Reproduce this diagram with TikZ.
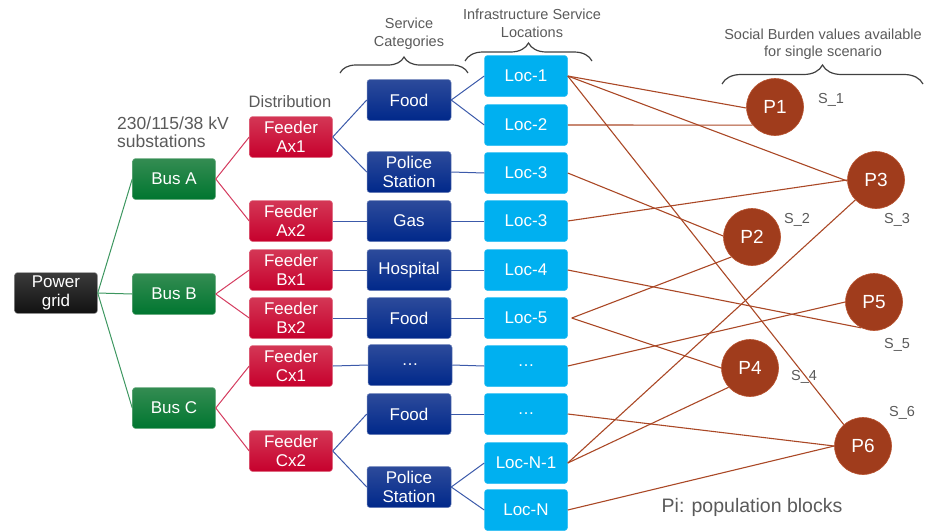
\documentclass[tikz,border=0pt]{standalone}
\usepackage{fontspec}
\setmainfont{Liberation Sans}
\usetikzlibrary{decorations.pathreplacing}
\definecolor{gridT}{RGB}{58,58,58}
\definecolor{gridB}{RGB}{18,18,18}
\definecolor{busT}{RGB}{52,140,82}
\definecolor{busB}{RGB}{0,118,48}
\definecolor{feedT}{RGB}{212,55,85}
\definecolor{feedB}{RGB}{198,0,45}
\definecolor{servT}{RGB}{45,75,155}
\definecolor{servB}{RGB}{0,40,138}
\definecolor{locC}{RGB}{0,176,240}
\definecolor{popC}{RGB}{160,60,28}
\definecolor{popD}{RGB}{185,85,50}
\definecolor{gline}{RGB}{60,150,95}
\definecolor{rline}{RGB}{212,60,95}
\definecolor{bline}{RGB}{60,90,170}
\definecolor{pline}{RGB}{170,72,38}
\definecolor{lbl}{RGB}{90,90,90}
\definecolor{brc}{RGB}{64,64,64}
\begin{document}
\begin{tikzpicture}[x=1pt,y=-1pt,
  box/.style={rounded corners=3pt, minimum width=83pt, minimum height=41pt, inner sep=0pt,
    align=center, text=white, font=\fontsize{17}{19}\selectfont},
  gridbox/.style={box, top color=gridT, bottom color=gridB, draw=gray!70, line width=0.5pt},
  busbox/.style={box, top color=busT, bottom color=busB, draw=busT!70!white, line width=0.5pt},
  feedbox/.style={box, top color=feedT, bottom color=feedB, draw=feedT!70!white, line width=0.5pt},
  servbox/.style={box, minimum width=84pt, top color=servT, bottom color=servB, draw=servT!70!white, line width=0.5pt},
  locbox/.style={box, fill=locC, draw=locC!80!white, line width=0.5pt},
  pop/.style={circle, minimum size=57pt, inner sep=0pt, fill=popC, draw=popD, line width=0.6pt,
    text=white, font=\fontsize{19}{21}\selectfont},
  lab/.style={text=lbl, align=center, inner sep=0pt, font=\fontsize{14.5}{18}\selectfont},
  slab/.style={text=lbl, inner sep=0pt, font=\fontsize{14.5}{17}\selectfont},
  gl/.style={draw=gline, line width=1pt},
  rl/.style={draw=rline, line width=1pt},
  bl/.style={draw=bline, line width=1pt},
  pl/.style={draw=pline, line width=1.1pt},
  brace/.style={draw=brc, line width=1.2pt, decorate, decoration={brace, amplitude=16pt}}
]
\useasboundingbox (0,0) rectangle (925,531);

% power grid and buses
\node[gridbox] (pg) at (56,293) {Power\\grid};
\node[busbox] (bA) at (174,179) {Bus A};
\node[busbox] (bB) at (174,294) {Bus B};
\node[busbox] (bC) at (174,408) {Bus C};

% feeders
\node[feedbox] (fA1) at (291,137) {Feeder\\Ax1};
\node[feedbox] (fA2) at (291,221) {Feeder\\Ax2};
\node[feedbox] (fB1) at (291,270) {Feeder\\Bx1};
\node[feedbox] (fB2) at (291,318) {Feeder\\Bx2};
\node[feedbox] (fC1) at (291,366) {Feeder\\Cx1};
\node[feedbox] (fC2) at (291,451) {Feeder\\Cx2};

% service categories
\node[servbox] (s1) at (409,100) {Food};
\node[servbox] (s2) at (409,172) {Police\\Station};
\node[servbox] (s3) at (409,221) {Gas};
\node[servbox] (s4) at (409,270) {Hospital};
\node[servbox] (s5) at (409,318) {Food};
\node[servbox] (s6) at (410,365) {…};
\node[servbox] (s7) at (409,414) {Food};
\node[servbox] (s8) at (409,487) {Police\\Station};

% locations
\node[locbox] (l1) at (526,76) {Loc-1};
\node[locbox] (l2) at (526,125) {Loc-2};
\node[locbox] (l3) at (526,173) {Loc-3};
\node[locbox] (l3b) at (526,221) {Loc-3};
\node[locbox] (l4) at (526,270) {Loc-4};
\node[locbox] (l5) at (526,318) {Loc-5};
\node[locbox] (ld1) at (526,366) {…};
\node[locbox] (ld2) at (526,414) {…};
\node[locbox] (lN1) at (526,463) {Loc-N-1};
\node[locbox] (lN) at (526,510) {Loc-N};

% population blocks
\node[pop] (P1) at (775,107) {P1};
\node[pop] (P3) at (876,180) {P3};
\node[pop] (P2) at (752,237) {P2};
\node[pop] (P5) at (874,302) {P5};
\node[pop] (P4) at (750,368) {P4};
\node[pop] (P6) at (863,446) {P6};

% S labels
\node[slab] (S1) at (831,100) {S\_1};
\node[slab] (S2) at (797,220) {S\_2};
\node[slab] (S3) at (897,220) {S\_3};
\node[slab] (S5) at (897,345) {S\_5};
\node[slab] (S4) at (804,377) {S\_4};
\node[slab] (S6) at (902,413) {S\_6};

% header labels
\node[text=lbl, align=left, inner sep=0pt, anchor=west, font=\fontsize{17.5}{18}\selectfont] (hsub) at (117,132) {230/115/38 kV\\substations};
\node[text=lbl, inner sep=0pt, font=\fontsize{16.5}{18}\selectfont] (hdist) at (290,102) {Distribution};
\node[lab] (hserv) at (409,34) {Service\\Categories};
\node[lab] (hloc) at (532,23) {Infrastructure Service\\Locations};
\node[lab, font=\fontsize{14.5}{17}\selectfont] (hsoc) at (823,44) {Social Burden values available\\for single scenario};
\node[text=lbl, inner sep=0pt, font=\fontsize{19.5}{22}\selectfont] (hpi) at (752,507) {Pi: population blocks};

% braces
\coordinate (bs1) at (340,73); \coordinate (bs2) at (468,73);
\coordinate (bl1) at (465,61); \coordinate (bl2) at (592,61);
\coordinate (bp1) at (722,84); \coordinate (bp2) at (923,84);
\draw[brace] (bs1) -- (bs2);
\draw[brace, decoration={brace, amplitude=18pt}] (bl1) -- (bl2);
\draw[brace, decoration={brace, amplitude=19pt}] (bp1) -- (bp2);

% green connectors
\draw[gl] (pg.east) -- (bA.west);
\draw[gl] (pg.east) -- (bB.west);
\draw[gl] (pg.east) -- (bC.west);

% red connectors
\draw[rl] (bA.east) -- (fA1.west);
\draw[rl] (bA.east) -- (fA2.west);
\draw[rl] (bB.east) -- (fB1.west);
\draw[rl] (bB.east) -- (fB2.west);
\draw[rl] (bC.east) -- (fC1.west);
\draw[rl] (bC.east) -- (fC2.west);

% blue connectors
\draw[bl] (fA1.east) -- (s1.west);
\draw[bl] (fA1.east) -- (s2.west);
\draw[bl] (fA2.east) -- (s3.west);
\draw[bl] (fB1.east) -- (s4.west);
\draw[bl] (fB2.east) -- (s5.west);
\draw[bl] (fC1.east) -- (s6.west);
\draw[bl] (fC2.east) -- (s7.west);
\draw[bl] (fC2.east) -- (s8.west);
\draw[bl] (s1.east) -- (l1.west);
\draw[bl] (s1.east) -- (l2.west);
\draw[bl] (s2.east) -- (l3.west);
\draw[bl] (s3.east) -- (l3b.west);
\draw[bl] (s4.east) -- (l4.west);
\draw[bl] (s5.east) -- (l5.west);
\draw[bl] (s6.east) -- (ld1.west);
\draw[bl] (s7.east) -- (ld2.west);
\draw[bl] (s8.east) -- (lN1.west);
\draw[bl] (s8.east) -- (lN.west);

% brown connectors
\draw[pl] (l1.east) -- (P1.182);
\draw[pl] (l1.east) -- (P3.182);
\draw[pl] (l1.east) -- (P6.132);
\draw[pl] (l2.east) -- (P1.219);
\draw[pl] (l3.east) -- (P2.178);
\draw[pl] (l3b.east) -- (P3.180);
\draw[pl] (l4.east) -- (P5.244);
\draw[pl] ([xshift=4pt]l5.east) -- (P2.224);
\draw[pl] ([xshift=4pt]l5.east) -- (P4.180);
\draw[pl] (ld1.east) -- (P5.180);
\draw[pl] (ld2.east) -- (P6.180);
\draw[pl] (lN1.east) -- (P3.224);
\draw[pl] (lN1.east) -- (P4.222);
\draw[pl] (lN.east) -- (P6.180);
\end{tikzpicture}
\end{document}
